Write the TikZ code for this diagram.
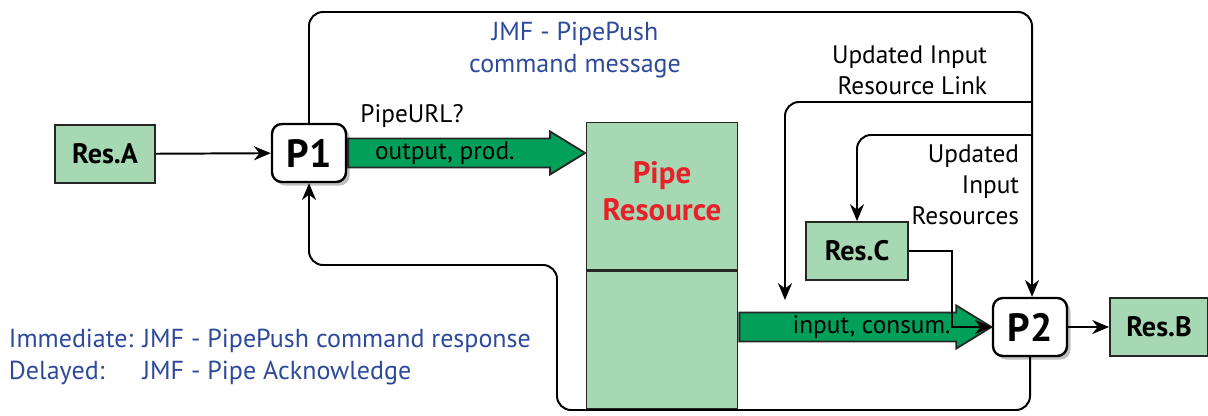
\documentclass[tikz,border=0pt]{standalone}
\usepackage{fontspec}
\setmainfont{PT Sans}
\usepackage{tikz}
\usetikzlibrary{positioning, shapes.arrows, arrows.meta, shadows, calc}

\definecolor{resgreen}{HTML}{A5D8B3}
\definecolor{fatgreen}{HTML}{00A05A}
\definecolor{jmfblue}{HTML}{2E4A9B}
\definecolor{pipered}{HTML}{E8202A}

\begin{document}
\begin{tikzpicture}[
  x=0.025cm, y=-0.025cm,
  res/.style={
    rectangle, draw=black!85, line width=1.3pt, fill=resgreen,
    minimum width=2.5cm, minimum height=1.45cm,
    font=\fontsize{20}{24}\selectfont\bfseries,
  },
  proc/.style={
    rectangle, draw=black, line width=1.7pt, rounded corners=7pt, fill=white,
    minimum width=1.85cm, minimum height=1.45cm,
    font=\fontsize{28}{32}\selectfont\bfseries,
    drop shadow={shadow xshift=2.5pt, shadow yshift=-2.5pt, opacity=0.5},
  },
  pipebox/.style={
    rectangle, draw=black!85, line width=1.3pt, fill=resgreen,
    minimum width=3.775cm, align=center,
  },
  fatarrow/.style={
    single arrow, draw=black!85, line width=1.3pt, fill=fatgreen,
    minimum width=1.075cm, single arrow head extend=0.15cm,
    single arrow tip angle=63, inner sep=0pt, anchor=tail,
    font=\fontsize{18}{22}\selectfont,
  },
  link/.style={-{Stealth[length=12pt, width=10pt]}, line width=1.4pt, rounded corners=10pt},
  msg/.style={font=\fontsize{18}{22}\selectfont, align=right},
  jmf/.style={text=jmfblue, font=\fontsize{18.5}{23}\selectfont},
]
\useasboundingbox (0,0) rectangle (1208,415);

% resources and processes
\node[res]  (resA) at (105,154) {Res.A};
\node[proc] (p1)   at (309,153) {P1};
\node[pipebox, minimum height=3.675cm, text=pipered,
      font=\fontsize{22}{26}\selectfont\bfseries] (pipetop) at (662,196) {Pipe\\Resource\\[-19pt]};
\node[pipebox, minimum height=3.45cm, below=0pt of pipetop] (pipebot) {};
\node[res, minimum width=2.55cm] (resC) at (857,251) {Res.C};
\node[proc] (p2)   at (1030,327) {P2};
\node[res, minimum width=2.45cm] (resB) at (1159,327) {Res.B};

% pipe arrows
\node[fatarrow, minimum height=5.925cm] (prod) at (p1.east) {\hspace*{-0.5cm}output, prod.};
\node[fatarrow, minimum height=6.3cm] (cons) at (pipebot.east |- p2) {\hspace*{0.9cm}input, consum.};

% helper points
\coordinate (topR)    at (1032,12);
\coordinate (linkR)   at (1032,102);
\coordinate (linkend) at (785,300);
\coordinate (inR)     at (1032,135);
\coordinate (cjoin)   at (952,327);
\coordinate (botL)    at (557,410);
\coordinate (midL)    at (557,265);

% connectors
\draw[link] (resA) -- (p1);
\draw[link] (p2) -- (resB);
\draw[link] (p1.north) |- (topR) -- (topR |- p2.north);
\draw[link] (linkR) -| (linkend);
\draw[link] (inR) -| (resC.north);
\draw[link, rounded corners=0pt] (resC.east) -| (cjoin) -- (p2.west);
\draw[link] (p2.south) |- (botL) -- (midL) -| (p1.south);

% labels
\node[jmf, align=center] (cmdmsg) at (575,50) {JMF - PipePush\\command message};
\node[msg] (url) at (412,116) {PipeURL?};
\node[msg, anchor=east] (linklbl) at (992,70) {Updated Input\\Resource Link};
\node[msg, anchor=east] (inlbl) at (1024,185) {Updated\\Input\\Resources};
\node[jmf, anchor=west] (resp) at (4,357) {%
  \begin{tabular}{@{}l@{ }l@{}}
  Immediate: & JMF - PipePush command response\\
  Delayed:   & JMF - Pipe Acknowledge
  \end{tabular}};
\end{tikzpicture}
\end{document}
